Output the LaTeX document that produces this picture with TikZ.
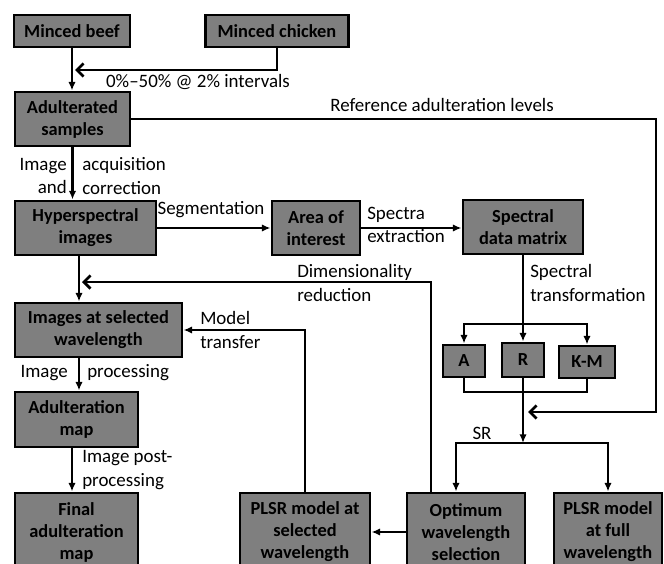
\documentclass[tikz,border=0pt]{standalone}
\usepackage{fontspec}
\setmainfont{Carlito}
\usetikzlibrary{arrows.meta}
\definecolor{boxgray}{RGB}{127,127,127}

\begin{document}
\begin{tikzpicture}[x=0.75pt,y=0.75pt,yscale=-1,xscale=1,
  >={Latex[length=6.5pt,width=5.5pt]},
  blk/.style={draw,line width=2.2pt,fill=boxgray,align=center,inner sep=0pt,
    font=\bfseries\fontsize{13.8}{16.5}\selectfont},
  lbl/.style={inner sep=0pt,font=\fontsize{14.2}{17.5}\selectfont},
  wire/.style={line width=2pt},
  flow/.style={line width=2pt,->},
  merge/.style={line width=2pt,-{Straight Barb[length=5pt,width=10pt]}}]
%set diagram frame: 664 x 564
\clip (0,0) rectangle (664,564);

%Shape: Rectangle (boxes)
\node[blk,minimum width=87pt,minimum height=24pt] (beef) at (72,31) {Minced beef};
\node[blk,minimum width=107.25pt,minimum height=24pt] (chicken) at (277,31) {Minced chicken};
\node[blk,minimum width=86.25pt,minimum height=40.5pt] (samples) at (72.5,119) {Adulterated\\samples};
\node[blk,minimum width=105.75pt,minimum height=40.5pt] (hyper) at (85.5,228) {Hyperspectral\\images};
\node[blk,minimum width=66pt,minimum height=40.5pt] (area) at (316,228) {Area of\\interest};
\node[blk,minimum width=90pt,minimum height=40.5pt] (spec) at (523,227) {Spectral\\data matrix};
\node[blk,minimum width=125.25pt,minimum height=40.5pt] (imgsel) at (98.5,330) {Images at selected\\wavelength};
\node[blk,minimum width=92.25pt,minimum height=41.25pt] (admap) at (76.5,419.5) {Adulteration\\map};
\node[blk,minimum width=92.25pt,minimum height=58.5pt] (final) at (76.5,532) {Final\\adulteration\\map};
\node[blk,minimum width=31.5pt,minimum height=24pt] (A) at (464,361) {A};
\node[blk,minimum width=31.5pt,minimum height=25.5pt] (R) at (523,360) {R};
\node[blk,minimum width=42pt,minimum height=24pt] (KM) at (587,362) {K-M};
\node[blk,minimum width=97.5pt,minimum height=58.5pt] (plsrsel) at (305,532) {PLSR model at\\selected\\wavelength};
\node[blk,minimum width=88.5pt,minimum height=58.5pt] (opt) at (466,532) {Optimum\\wavelength\\selection};
\node[blk,minimum width=81pt,minimum height=58.5pt] (full) at (608,532) {PLSR model\\at full\\wavelength};

%Coordinates for bends and free ends
\coordinate (mix) at (75,70);
\coordinate (refcorner) at (656,412);
\coordinate (refin) at (528,412);
\coordinate (br) at (523,324);
\coordinate (kmj) at (523,392);
\coordinate (sr) at (523,443);
\coordinate (dimr) at (431,282);
\coordinate (dimin) at (82,282);
\coordinate (leftcol) at (79,0);
\coordinate (mapcol) at (72,0);

%Straight Lines
\draw[flow] (beef.south) -- (beef.south |- samples.north);
\draw[merge] (chicken.south) |- (mix);
\draw[merge] (samples.east) -| (refcorner) -- (refin);
\draw[flow] (samples.south) -- (samples.south |- hyper.north);
\draw[flow] (hyper.east) -- (area.west);
\draw[flow] (area.east) -- (area.east -| spec.west);
\draw[flow] (spec.south) -- (R.north);
\draw[flow,<->] (A.north) |- (br) -| (KM.north);
\draw[wire] (A.south) |- (kmj) -| (KM.south);
\draw[flow] (R.south) -- (sr);
\draw[flow,<->] ([xshift=-7.5pt]opt.north) |- (sr) -| (full.north);
\draw[merge] (opt.north -| dimr) -- (dimr) -- (dimin);
\draw[flow] (hyper.south -| leftcol) -- (imgsel.north -| leftcol);
\draw[flow] (plsrsel.north) |- (imgsel.east);
\draw[flow] (imgsel.south -| leftcol) -- (admap.north -| leftcol);
\draw[flow] (admap.south -| mapcol) -- (final.north -| mapcol);
\draw[flow] (opt.west) -- (plsrsel.east);

% Text Node
\node[lbl] (pct) at (198,82) {0\%--50\% @ 2\% intervals};
% Text Node
\node[lbl] (reflbl) at (442,105) {Reference adulteration levels};
% Text Node
\node[lbl,anchor=east,align=right] (acq1) at (67,176) {Image\\and};
\node[lbl,anchor=west,align=left] (acq2) at (82,176) {acquisition\\correction};
% Text Node
\node[lbl] (seg) at (211,210) {Segmentation};
% Text Node
\node[lbl,anchor=west,align=left] (sext) at (367,225) {Spectra\\extraction};
% Text Node
\node[lbl,anchor=west,align=left] (stf) at (530,283) {Spectral\\transformation};
% Text Node
\node[lbl,anchor=west,align=left] (dimlbl) at (297,283) {Dimensionality\\reduction};
% Text Node
\node[lbl,anchor=west,align=left] (mtf) at (200,330) {Model\\transfer};
% Text Node
\node[lbl,anchor=east] (ip1) at (68,373) {Image};
\node[lbl,anchor=west] (ip2) at (87,373) {processing};
% Text Node
\node[lbl,anchor=west,align=left] (post) at (82,470) {Image post-\\processing};
% Text Node
\node[lbl] (srlbl) at (482,433) {SR};

\end{tikzpicture}
\end{document}
